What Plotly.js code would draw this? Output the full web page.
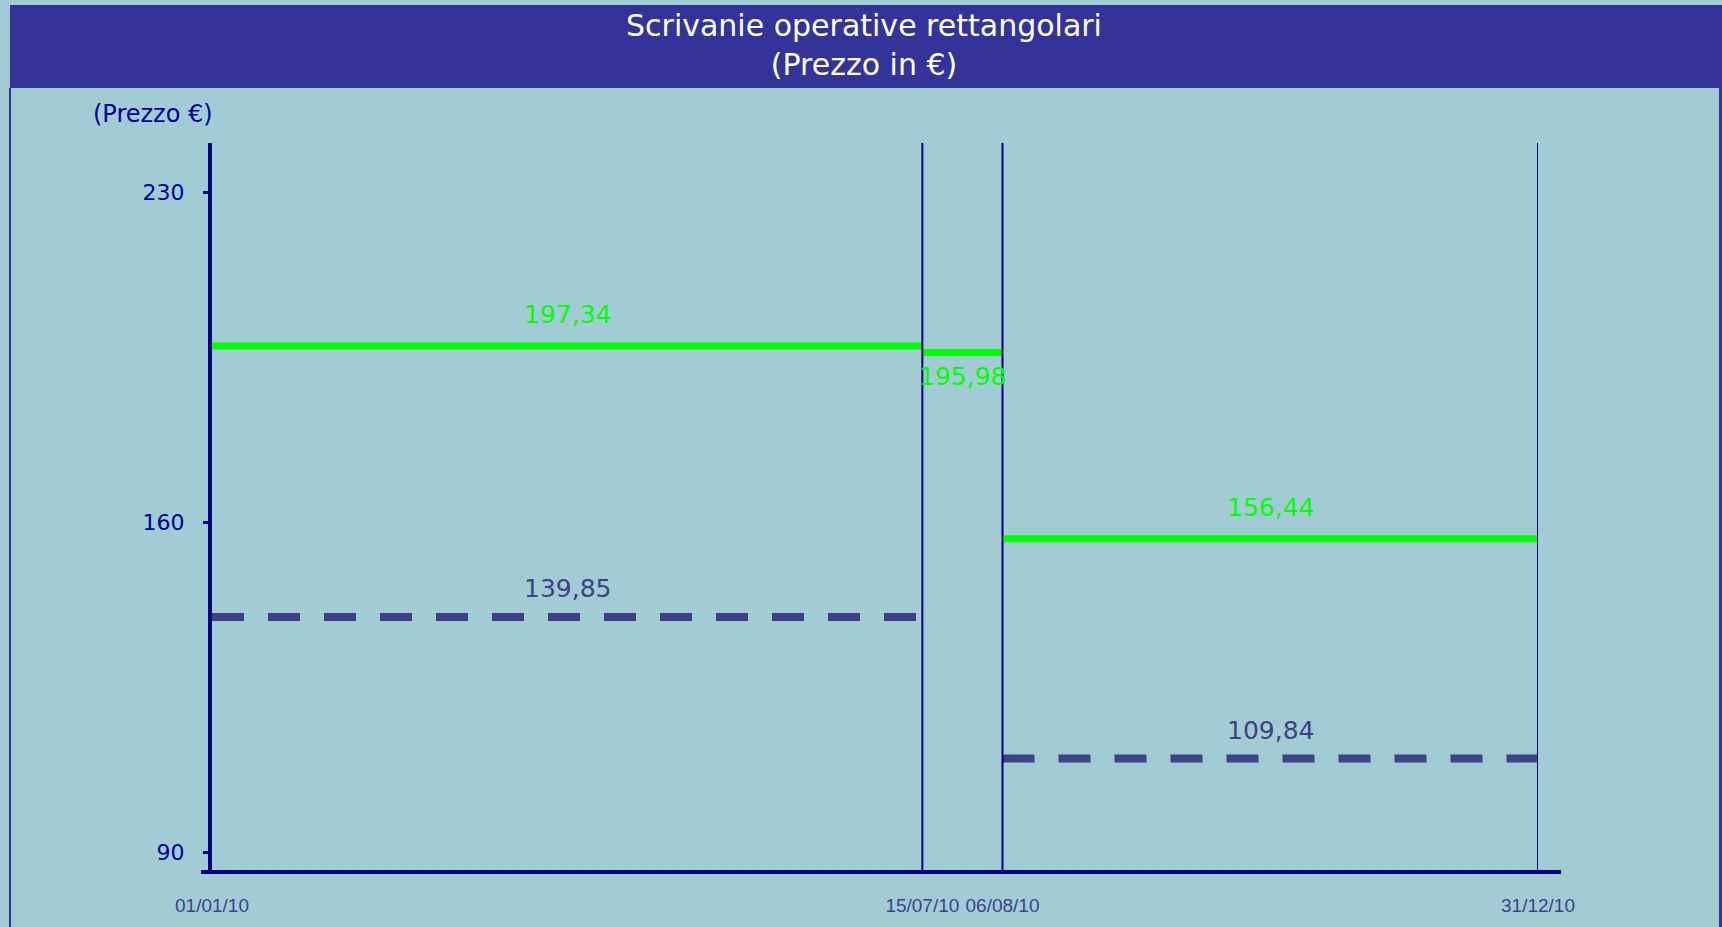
<!DOCTYPE html>
<html>
<head>
<meta charset="utf-8">
<script src="https://cdn.plot.ly/plotly-3.0.1.min.js"></script>
<style>
  html, body { margin: 0; padding: 0; background: #A2CCD3; }
  #chart { width: 1722px; height: 927px; }
</style>
</head>
<body>
<div id="chart"></div>
<script>
// ---- data ----
const periodStart = ['2010-01-01', '2010-07-15', '2010-08-06'];
const periodEnd   = ['2010-07-15', '2010-08-06', '2010-12-31'];
const avgPrice    = [197.34, 195.98, 156.44];
const minPrice    = [139.85, null, 109.84];
const yTickVals   = [90, 160, 230];
const boundaryDates = ['2010-01-01', '2010-07-15', '2010-08-06', '2010-12-31'];
const boundaryLabels = ['01/01/10', '15/07/10', '06/08/10', '31/12/10'];
const chartTitle = 'Scrivanie operative rettangolari<br>(Prezzo in €)';
const yLabel = '(Prezzo €)';

// ---- layout geometry (pixels) ----
const W = 1722, H = 927;
const M = { l: 212, r: 184, t: 143, b: 55 };
const PW = W - M.l - M.r, PH = H - M.t - M.b;
const px2x = p => (p - M.l) / PW;
const px2y = p => (H - M.b - p) / PH;

const NAVY = '#000080';
const GREEN = '#00FF00';
const DASH = '#404088';
const fmt = v => v.toFixed(2).replace('.', ',');
const midDate = (a, b) => new Date((Date.parse(a) + Date.parse(b)) / 2).toISOString().replace('T', ' ').slice(0, 19);
const days = (a, b) => (Date.parse(b) - Date.parse(a)) / 86400000;

// ---- traces ----
const gx = [], gy = [], dx = [], dy = [];
for (let i = 0; i < avgPrice.length; i++) {
  gx.push(periodStart[i], periodEnd[i], null);
  gy.push(avgPrice[i], avgPrice[i], null);
  if (minPrice[i] !== null) {
    dx.push(periodStart[i], periodEnd[i], null);
    dy.push(minPrice[i], minPrice[i], null);
  }
}
const traces = [
  { x: gx, y: gy, type: 'scatter', mode: 'lines', line: { color: GREEN, width: 7 }, connectgaps: false, hoverinfo: 'skip' },
  { x: dx, y: dy, type: 'scatter', mode: 'lines', line: { color: DASH, width: 8, dash: '32px,24px' }, connectgaps: false, hoverinfo: 'skip' }
];

// ---- annotations ----
const annotations = [];
for (let i = 0; i < avgPrice.length; i++) {
  const short = days(periodStart[i], periodEnd[i]) < 60;
  annotations.push({
    x: midDate(periodStart[i], periodEnd[i]), y: avgPrice[i], xref: 'x', yref: 'y',
    text: fmt(avgPrice[i]), showarrow: false,
    yshift: short ? -24 : 31,
    font: { family: 'DejaVu Sans', size: 25, color: GREEN }
  });
  if (minPrice[i] !== null) {
    annotations.push({
      x: midDate(periodStart[i], periodEnd[i]), y: minPrice[i], xref: 'x', yref: 'y',
      text: fmt(minPrice[i]), showarrow: false, yshift: 28,
      font: { family: 'DejaVu Sans', size: 25, color: DASH }
    });
  }
}
annotations.push({
  x: px2x(153), y: px2y(114), xref: 'paper', yref: 'paper',
  text: yLabel, showarrow: false, xanchor: 'center', yanchor: 'middle',
  font: { family: 'DejaVu Sans', size: 24, color: '#000099' }
});

// ---- shapes ----
const shapes = [
  // title bar
  { type: 'rect', xref: 'paper', yref: 'paper', x0: px2x(10), x1: px2x(1722), y0: px2y(88), y1: px2y(5),
    fillcolor: '#333399', line: { width: 0 }, layer: 'below' },
  // panel borders
  { type: 'line', xref: 'paper', yref: 'paper', x0: px2x(10), x1: px2x(10), y0: px2y(88), y1: px2y(927),
    line: { color: '#333399', width: 2 } },
  { type: 'line', xref: 'paper', yref: 'paper', x0: px2x(1720.5), x1: px2x(1720.5), y0: px2y(5), y1: px2y(927),
    line: { color: '#333399', width: 3 } },
  // x axis line
  { type: 'line', xref: 'paper', yref: 'paper', x0: px2x(201), x1: px2x(1561), y0: 0, y1: 0,
    line: { color: NAVY, width: 4 } }
];
boundaryDates.slice(1).forEach(d => {
  shapes.push({ type: 'line', xref: 'x', yref: 'paper', x0: d, x1: d, y0: 0, y1: 1,
    line: { color: NAVY, width: 2 }, layer: 'above' });
});

// ---- y range from tick geometry: 230 at y=192px, 160 at y=522px ----
const pxPerUnit = (522 - 192) / (230 - 160);
const yTop = 230 + (192 - M.t) / pxPerUnit;
const yBot = 160 - (H - M.b - 522) / pxPerUnit;

const layout = {
  width: W, height: H,
  margin: M,
  paper_bgcolor: '#A2CCD3',
  plot_bgcolor: '#A2CCD3',
  showlegend: false,
  title: {
    text: chartTitle,
    font: { family: 'DejaVu Sans', size: 30, color: '#FFFFFF' },
    xref: 'container', x: 864 / W, xanchor: 'center',
    yref: 'container', y: 1 - 36 / H, yanchor: 'middle'
  },
  xaxis: {
    type: 'date',
    range: [boundaryDates[0], boundaryDates[boundaryDates.length - 1]],
    tickvals: boundaryDates, ticktext: boundaryLabels,
    tickmode: 'array',
    showgrid: false, zeroline: false, showline: false,
    ticks: '', ticklabelstandoff: 20,
    tickfont: { family: 'Liberation Sans', size: 19, color: '#404090' }
  },
  yaxis: {
    range: [yBot, yTop],
    tickmode: 'array', tickvals: yTickVals, ticktext: yTickVals.map(String),
    showgrid: false, zeroline: false,
    showline: true, linecolor: NAVY, linewidth: 4,
    ticks: 'outside', ticklen: 5, tickwidth: 3, tickcolor: NAVY,
    ticklabelstandoff: 14,
    tickfont: { family: 'DejaVu Sans', size: 22, color: '#000099' }
  },
  shapes: shapes,
  annotations: annotations
};

Plotly.newPlot('chart', traces, layout, { displayModeBar: false, staticPlot: true });
</script>
</body>
</html>
